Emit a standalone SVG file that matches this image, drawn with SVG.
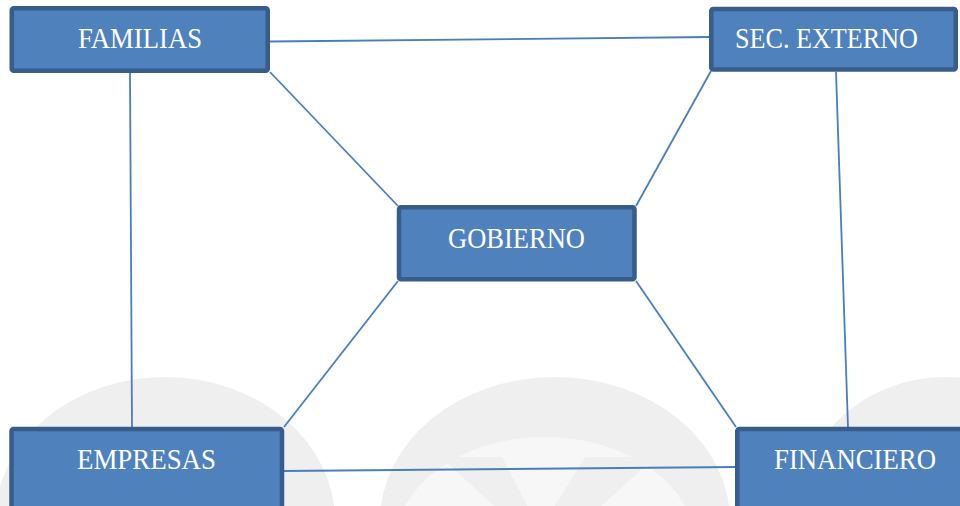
<svg xmlns="http://www.w3.org/2000/svg" width="960" height="506" viewBox="0 0 960 506">
<style>
.box{fill:#4f81bd;stroke:#385d8a;stroke-width:4.5}
.lbl{font-family:"Liberation Serif","DejaVu Serif",serif;font-size:29px;fill:#ffffff;text-anchor:middle}
.con line{stroke:#4a7ebb;stroke-width:1.8;fill:none}
.wm{fill:#efefef}
.wm2{fill:#f7f7f7}
</style>
<rect width="960" height="506" fill="#ffffff"/>
<g id="watermark">
<ellipse class="wm" cx="165" cy="521" rx="170" ry="144"/>
<ellipse class="wm" cx="555" cy="521" rx="175" ry="144"/>
<ellipse class="wm2" cx="545" cy="545" rx="150" ry="108"/>
<polygon class="wm" points="441,457 502,457 540,530 585,457 655,457 575,530 520,530"/>
<ellipse class="wm" cx="945" cy="521" rx="150" ry="144"/>
</g>
<g id="connectors" class="con">
<line x1="270" y1="41.5" x2="710" y2="37"/>
<line x1="130" y1="73" x2="132" y2="427"/>
<line x1="270" y1="72" x2="398" y2="206"/>
<line x1="711" y1="71" x2="636" y2="206"/>
<line x1="836" y1="72" x2="848" y2="427"/>
<line x1="398" y1="281" x2="284" y2="427"/>
<line x1="636" y1="281" x2="736" y2="427"/>
<line x1="284" y1="471" x2="736" y2="467"/>
</g>
<g id="familias">
<rect class="box" x="11.75" y="8.25" width="256" height="62.5" rx="2"/>
<text class="lbl" x="140" y="48" textLength="124" lengthAdjust="spacingAndGlyphs">FAMILIAS</text>
</g>
<g id="sec-externo">
<rect class="box" x="711.25" y="9" width="244.5" height="60.5" rx="2"/>
<text class="lbl" x="826.5" y="48" textLength="183" lengthAdjust="spacingAndGlyphs">SEC. EXTERNO</text>
</g>
<g id="gobierno">
<rect class="box" x="399" y="207.25" width="235.5" height="72" rx="2"/>
<text class="lbl" x="516.5" y="247.5" textLength="137" lengthAdjust="spacingAndGlyphs">GOBIERNO</text>
</g>
<g id="empresas">
<rect class="box" x="11.5" y="429" width="270.5" height="82" rx="2"/>
<text class="lbl" x="146.5" y="469" textLength="139" lengthAdjust="spacingAndGlyphs">EMPRESAS</text>
</g>
<g id="financiero">
<rect class="box" x="737.25" y="429" width="240" height="82" rx="2"/>
<text class="lbl" x="855" y="469" textLength="162" lengthAdjust="spacingAndGlyphs">FINANCIERO</text>
</g>
</svg>
